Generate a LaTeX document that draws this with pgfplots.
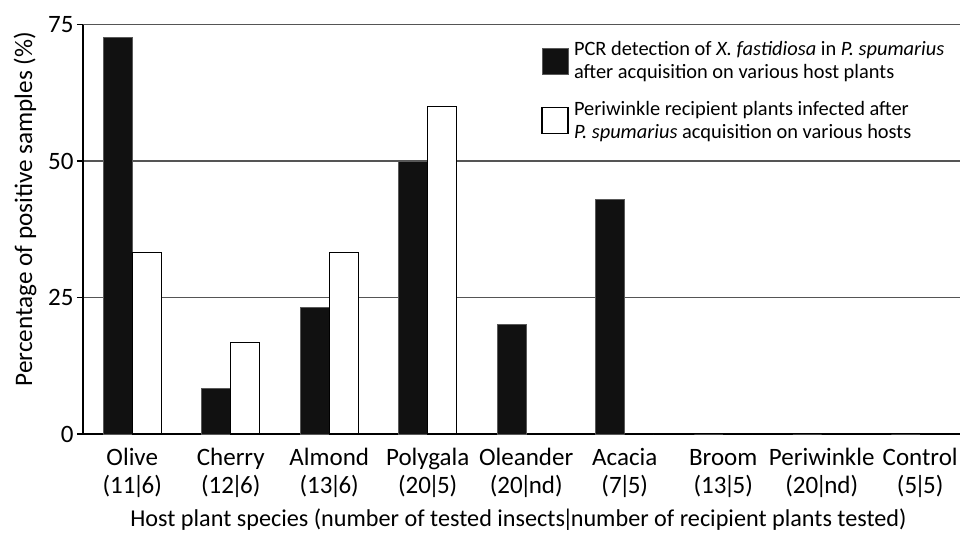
\documentclass[border=0pt]{standalone}
\usepackage{fontspec}
\setmainfont{Carlito}
\usepackage{pgfplots}
\pgfplotsset{compat=1.18}
\definecolor{barblack}{HTML}{111111}
\definecolor{gridgray}{HTML}{555555}
\newcommand{\vb}{\kern-0.11em|\kern-0.11em}
\begin{document}
\begin{tikzpicture}[x=1pt,y=1pt]
\begin{axis}[
  at={(0pt,0pt)}, anchor=south west,
  scale only axis, width=877pt, height=409.5pt,
  xmin=-0.5, xmax=8.404, ymin=0, ymax=75,
  axis x line*=bottom, axis y line*=left,
  axis line style={line width=1.3pt, -},
  ytick={0,25,50,75},
  ymajorgrids, grid style={gridgray, line width=1.1pt},
  major tick length=6pt, minor tick length=6pt,
  tick style={black, line width=1.3pt},
  tick align=outside,
  xtick={0,...,8},
  xticklabels={{\strut Olive\\(11\vb 6)},{\strut Cherry\\(12\vb 6)},{\strut Almond\\(13\vb 6)},{\strut Polygala\\(20\vb 5)},{\strut Oleander\\(20\vb nd)},{\strut Acacia\\(7\vb 5)},{\strut Broom\\(13\vb 5)},{\strut Periwinkle\\(20\vb nd)},{\strut Control\\(5\vb 5)}},
  x tick style={draw=none},
  minor xtick={-0.5,0.5,1.5,2.5,3.5,4.5,5.5,6.5,7.5},
  minor x tick style={black, line width=1.3pt},
  xticklabel style={align=center, font=\fontsize{25}{28}\selectfont, yshift=-2pt},
  yticklabel style={font=\fontsize{25}{28}\selectfont},
  /pgf/number format/assume math mode=true,
  ylabel={Percentage of positive samples (\%)},
  ylabel style={at={(axis description cs:-0.0661,0.549)}, anchor=center, font=\fontsize{25.2}{28}\selectfont},
  xlabel={Host plant species (number of tested insects\vb number of recipient plants tested)},
  xlabel style={at={(axis description cs:0.4966,-0.209)}, anchor=center, font=\fontsize{24.2}{28}\selectfont},
  ybar, bar width=0.294,
  legend style={at={(axis description cs:0.519,0.968)}, anchor=north west, draw=none, fill=none,
    font=\fontsize{20.4}{23}\selectfont, row sep=17pt, cells={align=left, anchor=west}},
  legend cell align=left,
]
\addplot[fill=barblack, draw=gray!70!black, line width=0.8pt, bar shift=-0.147,
  legend image code/.code={\draw[fill=barblack, draw=gray!70!black, line width=1pt] (0pt,-13pt) rectangle (26pt,13pt); \path[draw=none, fill=none] (0pt,0pt) rectangle (30pt,0pt);}]
  coordinates {(0,72.7) (1,8.3) (2,23.1) (3,50) (4,20) (5,42.9) (6,0) (7,0) (8,0)};
\addlegendentry{PCR detection of \textit{X. fastidiosa} in \textit{P. spumarius}\\after acquisition on various host plants}
\addplot[fill=white, draw=black, line width=1.3pt, bar shift=0.147,
  legend image code/.code={\draw[fill=white, draw=black, line width=1.3pt] (0pt,-13pt) rectangle (26pt,13pt); \path[draw=none, fill=none] (0pt,0pt) rectangle (30pt,0pt);}]
  coordinates {(0,33.3) (1,16.7) (2,33.3) (3,60) (5,0) (6,0) (8,0)};
\addlegendentry{Periwinkle recipient plants infected after\\\textit{P. spumarius} acquisition on various hosts}
\end{axis}
\pgfresetboundingbox
\path (-83pt,-99pt) rectangle (877pt,434pt);
\end{tikzpicture}
\end{document}
